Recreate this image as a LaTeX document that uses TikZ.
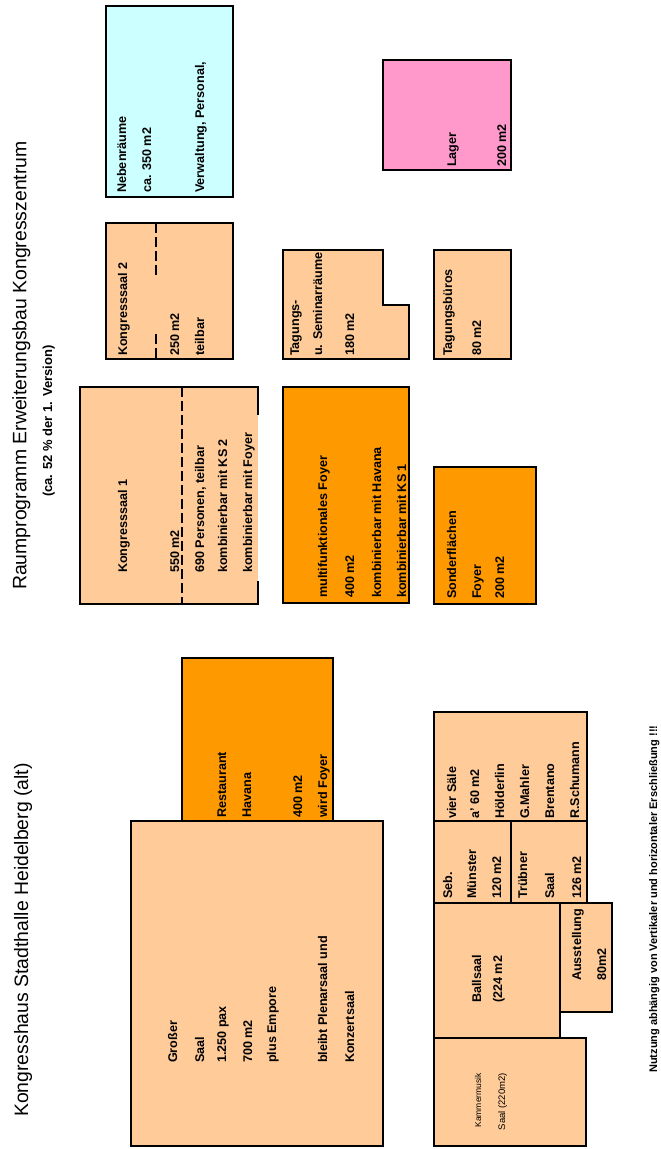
\documentclass[tikz,border=0pt]{standalone}
\usepackage{fontspec}
\setmainfont{Liberation Sans}
\definecolor{peach}{HTML}{FFCC99}
\definecolor{orangefill}{HTML}{FF9900}
\definecolor{cyanfill}{HTML}{CCFFFF}
\definecolor{pinkfill}{HTML}{FF99CC}
\begin{document}
\begin{tikzpicture}[x=1pt,y=-1pt,
  room/.style={draw=black,line width=1.8pt},
  wall/.style={draw=black,line width=1.8pt},
  dashwall/.style={draw=black,line width=1.8pt,dash pattern=on 10pt off 4pt},
  txt/.style={rotate=90,anchor=base west,inner sep=0pt,font=\fontsize{12.6}{15}\selectfont\bfseries},
  small/.style={rotate=90,anchor=base east,inner sep=0pt},
  title/.style={rotate=90,anchor=base west,inner sep=0pt,font=\fontsize{19.4}{22}\selectfont},
  subtitle/.style={rotate=90,anchor=base west,inner sep=0pt,font=\fontsize{13}{15}\selectfont\bfseries},
  foot/.style={rotate=90,anchor=base west,inner sep=0pt,font=\fontsize{11}{13}\selectfont\bfseries}]
\useasboundingbox (0,0) rectangle (661,1149);

% ---------- titles ----------
\node[title] (t1) at (26.5,590) {Raumprogramm Erweiterungsbau Kongresszentrum};
\node[subtitle] (t2) at (52,497) {(ca. 52 \% der 1. Version)};
\node[title] (t3) at (28,1117) {Kongresshaus Stadthalle Heidelberg (alt)};
\node[foot] (ft) at (657,1073) {Nutzung abhängig von Vertikaler und horizontaler Erschließung !!!};

% ---------- Erweiterungsbau ----------
% Nebenraeume
\path[room,fill=cyanfill] (106,6) rectangle (233,197);
\node[txt] (nb1) at (126,193) {Nebenräume};
\node[txt] (nb2) at (151,193) {ca. 350 m2};
\node[txt] (nb3) at (204,193) {Verwaltung, Personal,};

% Kongresssaal 2
\path[room,fill=peach] (106,223) rectangle (233,359);
\draw[dashwall] (156,223) -- (156,278);
\draw[dashwall] (156,334) -- (156,359);
\node[txt] (k21) at (127,356) {Kongresssaal 2};
\node[txt] (k22) at (179,356) {250 m2};
\node[txt] (k23) at (204,356) {teilbar};

% Kongresssaal 1
\fill[peach] (80,387) rectangle (258,604);
\draw[wall] (258,415) -- (258,387) -- (80,387) -- (80,604) -- (258,604) -- (258,581);
\draw[dashwall] (182,387) -- (182,604);
\node[txt] (k11) at (127,573) {Kongresssaal 1};
\node[txt] (k12) at (179,573) {550 m2};
\node[txt] (k13) at (204,573) {690 Personen, teilbar};
\node[txt] (k14) at (227,573) {kombinierbar mit KS 2};
\node[txt] (k15) at (252,573) {kombinierbar mit Foyer};

% Tagungs- u. Seminarraeume
\path[room,fill=peach] (283,250) -- (383,250) -- (383,305) -- (409,305) -- (409,359) -- (283,359) -- cycle;
\node[txt] (ts1) at (299,356) {Tagungs-};
\node[txt] (ts2) at (322,356) {u. Seminarräume};
\node[txt] (ts3) at (354,356) {180 m2};

% multifunktionales Foyer
\path[room,fill=orangefill] (283,387) rectangle (409,603);
\node[txt] (fo1) at (327,598) {multifunktionales Foyer};
\node[txt] (fo2) at (354,598) {400 m2};
\node[txt] (fo3) at (381,598) {kombinierbar mit Havana};
\node[txt] (fo4) at (406,598) {kombinierbar mit KS 1};

% Lager
\path[room,fill=pinkfill] (383,60) rectangle (511,170);
\node[txt] (la1) at (456,167) {Lager};
\node[txt] (la2) at (506,167) {200 m2};

% Tagungsbueros
\path[room,fill=peach] (434,250) rectangle (511,359);
\node[txt] (tb1) at (452,356) {Tagungsbüros};
\node[txt] (tb2) at (481,356) {80 m2};

% Sonderflaechen
\path[room,fill=orangefill] (434,467) rectangle (536,604);
\node[txt] (so1) at (456,599) {Sonderflächen};
\node[txt] (so2) at (481,599) {Foyer};
\node[txt] (so3) at (504,599) {200 m2};

% ---------- Kongresshaus (alt) ----------
% Restaurant Havana
\path[room,fill=orangefill] (182,658) rectangle (333,821);
\node[txt] (rh1) at (226,818) {Restaurant};
\node[txt] (rh2) at (251,818) {Havana};
\node[txt] (rh3) at (302,818) {400 m2};
\node[txt] (rh4) at (327,818) {wird Foyer};

% Grosser Saal
\path[room,fill=peach] (131,821) rectangle (383,1146);
\node[txt] (gs1) at (177,1063) {Großer};
\node[txt] (gs2) at (204,1063) {Saal};
\node[txt] (gs3) at (226,1063) {1.250 pax};
\node[txt] (gs4) at (252,1063) {700 m2};
\node[txt] (gs5) at (276,1063) {plus Empore};
\node[txt] (gs6) at (327,1063) {bleibt Plenarsaal und};
\node[txt] (gs7) at (354,1063) {Konzertsaal};

% Saele block
\path[room,fill=peach] (434,712) rectangle (587,903);
\draw[wall] (434,821) -- (587,821);
\draw[wall] (511,821) -- (511,903);
\node[txt] (vs1) at (456,819) {vier Säle};
\node[txt] (vs2) at (479,819) {a' 60 m2};
\node[txt] (vs3) at (504,819) {Hölderlin};
\node[txt] (vs4) at (529,819) {G.Mahler};
\node[txt] (vs5) at (554,819) {Brentano};
\node[txt] (vs6) at (579,819) {R.Schumann};
\node[txt] (sm1) at (452,899) {Seb.};
\node[txt] (sm2) at (476,899) {Münster};
\node[txt] (sm3) at (501,899) {120 m2};
\node[txt] (tr1) at (527,899) {Trübner};
\node[txt] (tr2) at (554,899) {Saal};
\node[txt] (tr3) at (581,899) {126 m2};

% Kammermusik
\path[room,fill=peach] (434,1038) rectangle (586,1146);
\node[small,font=\fontsize{8.5}{10}\selectfont] (km1) at (481,1073) {Kammermusik};
\node[small,font=\fontsize{9.5}{11}\selectfont] (km2) at (505,1073) {Saal (220m2)};

% Ballsaal
\path[room,fill=peach] (434,903) rectangle (560,1038);
\node[txt] (bs1) at (481,1003) {Ballsaal};
\node[txt] (bs2) at (502,1003) {(224 m2};

% Ausstellung
\path[room,fill=peach] (560,903) rectangle (612,1012);
\node[txt] (au1) at (581,981) {Ausstellung};
\node[txt] (au2) at (606,981) {80m2};
\end{tikzpicture}
\end{document}
